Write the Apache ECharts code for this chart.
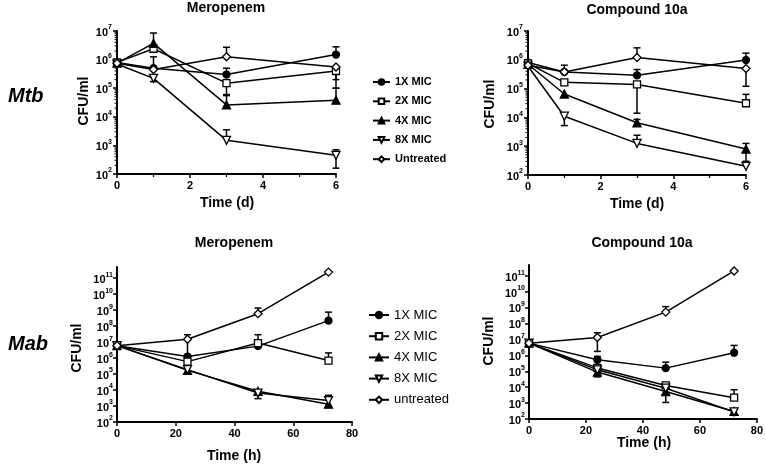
<!DOCTYPE html>
<html><head><meta charset="utf-8">
<script src="https://cdn.jsdelivr.net/npm/echarts@6/dist/echarts.min.js"></script>
<style>html,body{margin:0;padding:0;background:#fff}#c{width:766px;height:465px}</style>
</head><body><div id="c"></div>
<script>
// ---------- data ----------
const timeDays = [0, 1, 3, 6];
const timeHours = [0, 24, 48, 72];
const legendTop = ['1X MIC', '2X MIC', '4X MIC', '8X MIC', 'Untreated'];
const legendBottom = ['1X MIC', '2X MIC', '4X MIC', '8X MIC', 'untreated'];
const xTicksDays = [0, 2, 4, 6];
const xTicksHours = [0, 20, 40, 60, 80];
const yTicksTop = [1e2, 1e3, 1e4, 1e5, 1e6, 1e7];
const yTicksBottom = [1e2, 1e3, 1e4, 1e5, 1e6, 1e7, 1e8, 1e9, 1e10, 1e11];
const panelTitles = ['Meropenem', 'Compound 10a', 'Meropenem', 'Compound 10a'];
const rowLabels = ['Mtb', 'Mab'];

// Mtb – Meropenem (CFU/ml); error arrays are [lower, upper]
const mtbMero1x = [8e5, 5e5, 3e5, 1.5e6];
const mtbMero1xErr = [[null, null], [null, 1.25e6], [null, 5e5], [null, 2.8e6]];
const mtbMero2x = [8e5, 2.4e6, 1.5e5, 4e5];
const mtbMero2xErr = [[null, null], [null, null], [5.5e4, null], [1e5, null]];
const mtbMero4x = [7.5e5, 3.7e6, 2.6e4, 3.8e4];
const mtbMero4xErr = [[null, null], [null, 8.5e6], [null, 6e4], [null, 1e5]];
const mtbMero8x = [7e5, 2.2e5, 1.5e3, 4.5e2];
const mtbMero8xErr = [[null, null], [1.7e5, null], [null, 3.5e3], [1.6e2, 7e2]];
const mtbMeroUn = [7.5e5, 4.5e5, 1.25e6, 5.5e5];
const mtbMeroUnErr = [[null, null], [null, null], [null, 2.7e6], [2e5, null]];

// Mtb – Compound 10a
const mtbCmp1x = [8e5, 3.8e5, 2.9e5, 9.8e5];
const mtbCmp1xErr = [[null, null], [null, 6.5e5], [null, 4.6e5], [null, 1.7e6]];
const mtbCmp2x = [7.5e5, 1.65e5, 1.4e5, 3.1e4];
const mtbCmp2xErr = [[null, null], [null, null], [1.4e4, null], [null, 6.3e4]];
const mtbCmp4x = [7e5, 6.5e4, 6.5e3, 8e2];
const mtbCmp4xErr = [[null, null], [null, null], [null, 8.5e3], [3e2, 1.25e3]];
const mtbCmp8x = [6e5, 1.1e4, 1.25e3, 2e2];
const mtbCmp8xErr = [[null, null], [5.2e3, null], [null, 2.4e3], [null, null]];
const mtbCmpUn = [6.5e5, 3.8e5, 1.2e6, 5e5];
const mtbCmpUnErr = [[null, null], [null, null], [null, 2.6e6], [1.2e5, null]];

// Mab – Meropenem
const mabMero1x = [6e6, 1.25e6, 5.6e6, 2.2e8];
const mabMero1xErr = [[null, null], [null, null], [null, null], [null, 7.5e8]];
const mabMero2x = [6e6, 6e5, 8.7e6, 7e5];
const mabMero2xErr = [[null, null], [null, null], [null, 2.9e7], [null, 2.1e6]];
const mabMero4x = [6e6, 1.7e5, 8.3e3, 1.3e3];
const mabMero4xErr = [[null, null], [null, null], [null, null], [null, null]];
const mabMero8x = [6e6, 1.9e5, 6.5e3, 2.2e3];
const mabMero8xErr = [[null, null], [null, null], [2.9e3, null], [null, 4.7e3]];
const mabMeroUn = [6e6, 1.5e7, 6e8, 2.4e11];
const mabMeroUnErr = [[null, null], [1.5e6, 2.9e7], [null, 1.35e9], [null, null]];

// Mab – Compound 10a
const mabCmp1x = [6e6, 5.4e5, 1.6e5, 1.5e6];
const mabCmp1xErr = [[null, null], [null, 8.7e5], [null, 3.8e5], [null, 4.3e6]];
const mabCmp2x = [6e6, 1.65e5, 1.3e4, 2.2e3];
const mabCmp2xErr = [[null, null], [null, null], [null, null], [null, 7e3]];
const mabCmp4x = [6e6, 9e4, 5.4e3, 3e2];
const mabCmp4xErr = [[null, null], [4.5e4, null], [1.1e3, null], [null, null]];
const mabCmp8x = [6e6, 1.25e5, 8.7e3, 2.8e2];
const mabCmp8xErr = [[null, null], [null, null], [null, null], [null, null]];
const mabCmpUn = [6e6, 1.35e7, 5.4e8, 2.1e11];
const mabCmpUnErr = [[null, null], [1.8e6, 2.7e7], [null, 1.2e9], [null, null]];

// ---------- chart ----------
const FONT = '"Liberation Sans", Arial, Helvetica, sans-serif';
const chart = echarts.init(document.getElementById('c'), null, {renderer: 'canvas'});

const STY = [
  {symbol: 'circle', size: 7, fill: '#000'},
  {symbol: 'rect', size: 7, fill: '#fff'},
  {symbol: 'triangle', size: 8, fill: '#000'},
  {symbol: 'path://M0,0L10,0L5,9Z', size: 8, fill: '#fff'},
  {symbol: 'diamond', size: 8, fill: '#fff'}
];

const panels = [
  {x: timeDays, names: legendTop, vals: [mtbMero1x, mtbMero2x, mtbMero4x, mtbMero8x, mtbMeroUn],
   errs: [mtbMero1xErr, mtbMero2xErr, mtbMero4xErr, mtbMero8xErr, mtbMeroUnErr]},
  {x: timeDays, names: legendTop, vals: [mtbCmp1x, mtbCmp2x, mtbCmp4x, mtbCmp8x, mtbCmpUn],
   errs: [mtbCmp1xErr, mtbCmp2xErr, mtbCmp4xErr, mtbCmp8xErr, mtbCmpUnErr]},
  {x: timeHours, names: legendBottom, vals: [mabMero1x, mabMero2x, mabMero4x, mabMero8x, mabMeroUn],
   errs: [mabMero1xErr, mabMero2xErr, mabMero4xErr, mabMero8xErr, mabMeroUnErr]},
  {x: timeHours, names: legendBottom, vals: [mabCmp1x, mabCmp2x, mabCmp4x, mabCmp8x, mabCmpUn],
   errs: [mabCmp1xErr, mabCmp2xErr, mabCmp4xErr, mabCmp8xErr, mabCmpUnErr]}
];

const grids = [
  {left: 117, top: 31, width: 219, height: 143},
  {left: 528, top: 31, width: 218, height: 144},
  {left: 117, top: 267, width: 235, height: 155},
  {left: 529, top: 265, width: 230, height: 154}
];

const axisLineStyle = {color: '#000', width: 2};
function xAxis(i) {
  const top = i < 2;
  const ticks = top ? xTicksDays : xTicksHours;
  return {
    type: 'value', gridIndex: i, min: ticks[0], max: ticks[ticks.length - 1],
    interval: ticks[1] - ticks[0],
    axisLine: {show: true, lineStyle: axisLineStyle},
    axisTick: {show: true, length: 4, lineStyle: {color: '#000', width: 1.5}},
    minorTick: {show: top, splitNumber: 2, length: 3, lineStyle: {color: '#000', width: 1.2}},
    splitLine: {show: false},
    axisLabel: {color: '#000', fontFamily: FONT, fontWeight: 'bold', fontSize: 11, margin: 6}
  };
}
function supFmt(v) {
  const e = Math.round(Math.log10(v));
  return '{b|10}{s|' + e + '}';
}
function yAxis(i) {
  const top = i < 2;
  const ticks = top ? yTicksTop : yTicksBottom;
  const ax = {
    type: 'log', logBase: 10, gridIndex: i, min: ticks[0], max: top ? ticks[ticks.length - 1] : 5e11,
    axisLine: {show: true, lineStyle: axisLineStyle},
    axisTick: {show: true, length: 4, lineStyle: {color: '#000', width: 1.5}},
    splitLine: {show: false},
    minorTick: {show: false},
    axisLabel: {
      color: '#000', margin: top ? 5 : 4, formatter: supFmt,
      rich: {
        b: {fontFamily: FONT, fontWeight: 'bold', fontSize: 11, lineHeight: 14, verticalAlign: 'bottom'},
        s: {fontFamily: FONT, fontWeight: 'bold', fontSize: 7, lineHeight: 14, verticalAlign: 'top', padding: [0, 0, 5, 0]}
      }
    }
  };
  if (!top) {
    ax.axisLabel.customValues = ticks;
    ax.axisTick.customValues = ticks;
  }
  return ax;
}

function errRender(params, api) {
  const x = api.value(0), v = api.value(1), lo = api.value(2), hi = api.value(3);
  const p = api.coord([x, v]);
  const children = [];
  const cw = 3.5;
  [lo, hi].forEach(function (b) {
    if (b === v) return;
    const q = api.coord([x, b]);
    children.push({type: 'line', shape: {x1: p[0], y1: p[1], x2: q[0], y2: q[1]}, style: {stroke: '#000', lineWidth: 1.5}});
    children.push({type: 'line', shape: {x1: q[0] - cw, y1: q[1], x2: q[0] + cw, y2: q[1]}, style: {stroke: '#000', lineWidth: 1.5}});
  });
  return {type: 'group', children: children};
}
function minorRender(params, api) {
  const p = api.coord([api.value(0), api.value(1)]);
  return {type: 'line', shape: {x1: p[0] - 2.5, y1: p[1], x2: p[0], y2: p[1]}, style: {stroke: '#000', lineWidth: 1}};
}

const series = [];
panels.forEach(function (pn, pi) {
  // log minor ticks on top panels' y axes
  if (pi < 2) {
    const md = [];
    for (let n = 2; n < 7; n++) for (let k = 2; k <= 9; k++) md.push([0, k * Math.pow(10, n)]);
    series.push({type: 'custom', xAxisIndex: pi, yAxisIndex: pi, data: md, renderItem: minorRender, clip: false, silent: true, z: 1});
  }
  pn.vals.forEach(function (vals, si) {
    const errData = pn.x.map(function (x, k) {
      const e = pn.errs[si][k];
      return [x, vals[k], e[0] == null ? vals[k] : e[0], e[1] == null ? vals[k] : e[1]];
    });
    series.push({type: 'custom', xAxisIndex: pi, yAxisIndex: pi, data: errData, renderItem: errRender, clip: false, silent: true, z: 2});
  });
  pn.vals.forEach(function (vals, si) {
    const s = STY[si];
    series.push({
      name: pn.names[si], type: 'line', xAxisIndex: pi, yAxisIndex: pi,
      data: pn.x.map(function (x, k) { return [x, vals[k]]; }),
      symbol: s.symbol, symbolSize: s.size, showAllSymbol: true,
      itemStyle: {color: s.fill, borderColor: '#000', borderWidth: 1.3},
      lineStyle: {color: '#000', width: 1.5},
      emphasis: {disabled: true}, z: 3, clip: false
    });
  });
});

function txt(t, x, y, font, opts) {
  return Object.assign({type: 'text', silent: true, style: Object.assign({text: t, x: x, y: y, font: font, fill: '#000', textAlign: 'center', textVerticalAlign: 'middle'}, opts || {})});
}
const titleFont = 'bold 14px ' + FONT;
const graphics = [
  txt(rowLabels[0], 8, 96, 'italic bold 20px ' + FONT, {textAlign: 'left'}),
  txt(rowLabels[1], 8, 344, 'italic bold 20px ' + FONT, {textAlign: 'left'}),
  txt(panelTitles[0], 226, 8, titleFont),
  txt(panelTitles[1], 637, 10, titleFont),
  txt(panelTitles[2], 234, 243, titleFont),
  txt(panelTitles[3], 642, 243, titleFont),
  txt('Time (d)', 227, 203, titleFont),
  txt('Time (d)', 637, 204, titleFont),
  txt('Time (h)', 234, 456, titleFont),
  txt('Time (h)', 644, 443, titleFont)
];
[[84, 101], [490, 104], [77, 348], [489, 341]].forEach(function (p) {
  graphics.push({type: 'text', silent: true, x: p[0], y: p[1], rotation: Math.PI / 2,
    style: {text: 'CFU/ml', x: 0, y: 0, font: titleFont, fill: '#000', textAlign: 'center', textVerticalAlign: 'middle'}});
});

chart.setOption({
  animation: false,
  backgroundColor: '#fff',
  grid: grids,
  xAxis: [0, 1, 2, 3].map(xAxis),
  yAxis: [0, 1, 2, 3].map(yAxis),
  legend: [
    {orient: 'vertical', left: 367, top: 71, itemWidth: 17, itemHeight: 7, itemGap: 7.3, selectedMode: false,
     data: legendTop, textStyle: {color: '#000', fontFamily: FONT, fontWeight: 'bold', fontSize: 11, lineHeight: 12}},
    {orient: 'vertical', left: 363, top: 303.5, itemWidth: 20, itemHeight: 8, itemGap: 8.2, selectedMode: false,
     data: legendBottom, textStyle: {color: '#000', fontFamily: FONT, fontWeight: 'normal', fontSize: 13, lineHeight: 13}}
  ],
  graphic: graphics,
  series: series
});
</script></body></html>
